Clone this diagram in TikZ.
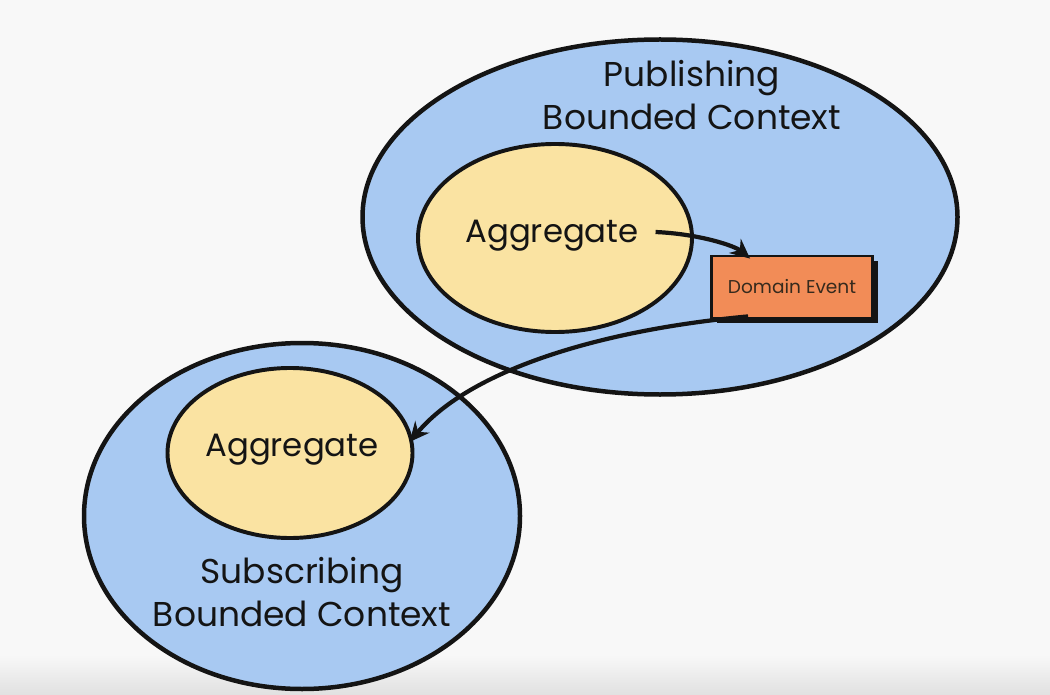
\documentclass[tikz,border=0pt]{standalone}
\usepackage{fontspec}
\setmainfont{Poppins}
\usetikzlibrary{arrows.meta,calc,shapes.geometric}
\definecolor{BCBlue}{HTML}{A8C9F2}
\definecolor{AggYellow}{HTML}{FAE3A2}
\definecolor{EvOrange}{HTML}{F28C57}
\definecolor{PaperBg}{HTML}{F8F8F8}
\definecolor{InkDark}{HTML}{141414}

\begin{document}
\begin{tikzpicture}[x=0.025cm,y=-0.025cm,
  context/.style={ellipse,draw=InkDark,fill=BCBlue,line width=3.2pt,inner sep=0pt},
  aggregate/.style={ellipse,draw=InkDark,fill=AggYellow,line width=2.8pt,inner sep=0pt},
  bigtext/.style={text=InkDark,font=\fontsize{24.5}{31}\selectfont,align=center},
  aggtext/.style={text=InkDark,font=\fontsize{23}{28}\selectfont},
  flow/.style={draw=InkDark,line width=3pt,-{Stealth[length=14pt,width=13pt]}}]
\path[use as bounding box,fill=PaperBg] (0,0) rectangle (1050,695);
\shade[top color=PaperBg,bottom color=black!12] (0,655) rectangle (1050,695);
% publishing side
\node[context,minimum width=595*0.025cm,minimum height=355*0.025cm] (pub) at (660,217) {};
\node[bigtext] (pubtxt) at (692,95) {Publishing\\Bounded Context};
\node[aggregate,minimum width=274*0.025cm,minimum height=188*0.025cm] (pubagg) at (555,238) {};
\node[aggtext] (pubaggtxt) at (552,236) {Aggregate};
\fill[InkDark] (717,261) rectangle (878,323);
\node[draw=InkDark,fill=EvOrange,line width=2pt,minimum width=161*0.025cm,minimum height=62*0.025cm,
  inner sep=0pt,text=InkDark!80!brown,font=\fontsize{13.2}{15}\selectfont] (event) at (792,287) {Domain Event};
% subscribing side
\node[context,minimum width=436*0.025cm,minimum height=346*0.025cm] (sub) at (302,516) {};
\node[aggregate,minimum width=245*0.025cm,minimum height=170*0.025cm] (subagg) at (290,453) {};
\node[aggtext] (subaggtxt) at (292,450) {Aggregate};
\node[bigtext] (subtxt) at (302,592) {Subscribing\\Bounded Context};
% events flowing
\draw[flow] ($(pubaggtxt.east)+(12,-4)$) .. controls (700,234) and (735,246) .. ($(event.north west)+(40,4)$);
\draw[flow] ($(event.south west)+(38,-3)$) .. controls (600,330) and (470,370) .. ($(subaggtxt.east)+(26,-8)$);
\end{tikzpicture}
\end{document}
